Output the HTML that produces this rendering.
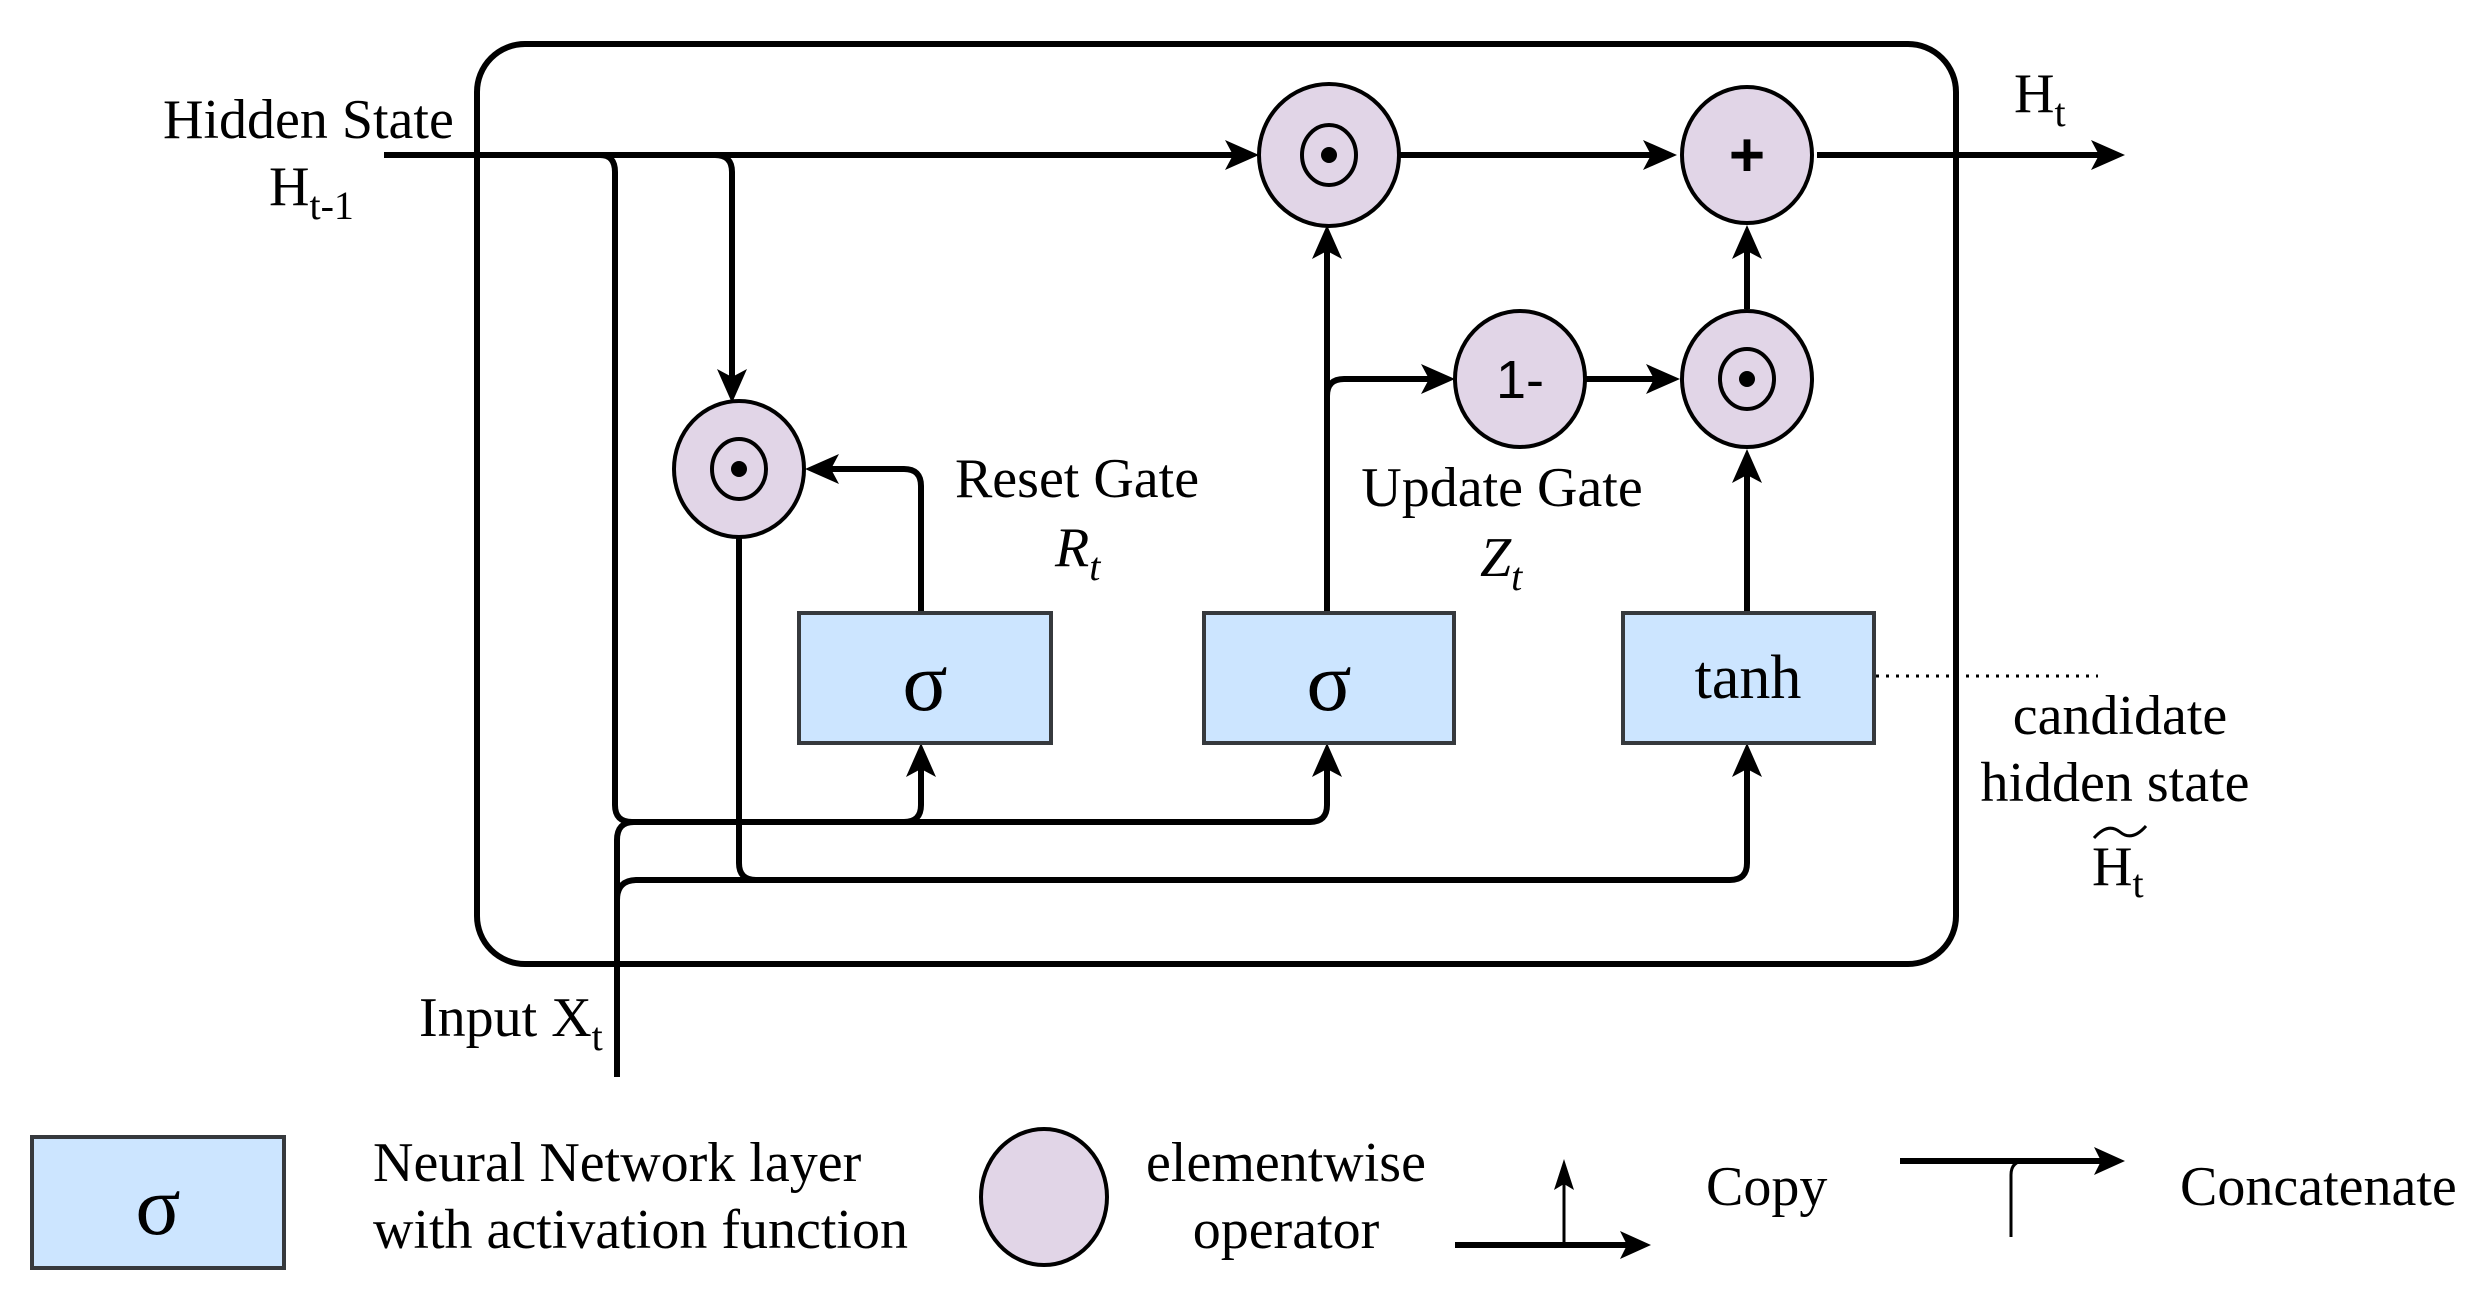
<!DOCTYPE html>
<html><head><meta charset="utf-8"><style>
html,body{margin:0;padding:0;background:#fff}
svg{display:block}
text{font-family:"Liberation Serif",serif;fill:#000}
</style></head><body>
<svg width="2477" height="1306" viewBox="0 0 2477 1306" xmlns="http://www.w3.org/2000/svg">
<g fill="none" stroke="#000" stroke-width="6">
<rect x="477" y="44" width="1479" height="920" rx="48"/>
<path d="M384,155 H1240"/>
<path d="M600,155 H600 Q615,155 615,172 V805 Q615,822 632,822 H904 Q921,822 921,805 V760"/>
<path d="M904,822 H1310 Q1327,822 1327,805 V760"/>
<path d="M715,155 Q732,155 732,172 V385"/>
<path d="M617,1077 V840 Q617,822 634,822"/>
<path d="M617,900 Q617,880 637,880 H1730 Q1747,880 1747,863 V760"/>
<path d="M739,535 V863 Q739,880 756,880"/>
<path d="M921,613 V486 Q921,469 904,469 H823"/>
<path d="M1327,613 V243"/>
<path d="M1327,396 Q1327,379 1344,379 H1437"/>
<path d="M1586,379 H1662"/>
<path d="M1747,309 V243"/>
<path d="M1747,613 V467"/>
<path d="M1399,155 H1659"/>
<path d="M1817,155 H2105"/>
<path d="M1455,1245 H1630"/>
<path d="M1564,1245 Q1564,1225 1564,1180" stroke-width="3"/>
<path d="M1900,1161 H2105"/>
<path d="M2011,1237 V1175 Q2011,1161 2025,1161" stroke-width="3"/>
</g>
<g fill="#000">
<polygon points="1259,155 1225,140 1233,155 1225,170"/>
<polygon points="1677,155 1643,140 1651,155 1643,170"/>
<polygon points="2125,155 2091,140 2099,155 2091,170"/>
<polygon points="1455,379 1421,364 1429,379 1421,394"/>
<polygon points="1680,379 1646,364 1654,379 1646,394"/>
<polygon points="805,469 839,454 831,469 839,484"/>
<polygon points="732,403 717,369 732,377 747,369"/>
<polygon points="1327,225 1312,259 1327,251 1342,259"/>
<polygon points="1747,225 1732,259 1747,251 1762,259"/>
<polygon points="1747,449 1732,483 1747,475 1762,483"/>
<polygon points="921,743 906,777 921,769 936,777"/>
<polygon points="1327,743 1312,777 1327,769 1342,777"/>
<polygon points="1747,743 1732,777 1747,769 1762,777"/>
<polygon points="1651,1245 1620,1231 1627,1245 1620,1259"/>
<polygon points="2125,1161 2094,1147 2101,1161 2094,1175"/>
<polygon points="1564,1159 1554,1190 1564,1184 1574,1190"/>
</g>
<g fill="#e1d5e7" stroke="#000" stroke-width="4">
<ellipse cx="1329" cy="155" rx="70" ry="71"/>
<ellipse cx="1747" cy="155" rx="65" ry="68"/>
<ellipse cx="1520" cy="379" rx="65" ry="68"/>
<ellipse cx="1747" cy="379" rx="65" ry="68"/>
<ellipse cx="739" cy="469" rx="65" ry="68"/>
<ellipse cx="1044" cy="1197" rx="63" ry="68"/>
</g>
<g fill="none" stroke="#000" stroke-width="4">
<ellipse cx="1329" cy="155" rx="27" ry="30"/>
<ellipse cx="1747" cy="379" rx="27" ry="30"/>
<ellipse cx="739" cy="469" rx="27" ry="30"/>
</g>
<g fill="#000">
<circle cx="1329" cy="155" r="8"/>
<circle cx="1747" cy="379" r="8"/>
<circle cx="739" cy="469" r="8"/>
</g>
<text x="1747" y="176" font-size="62" font-weight="bold" text-anchor="middle" style="font-family:'Liberation Sans',sans-serif">+</text>
<text x="1520" y="398" font-size="54" text-anchor="middle" style="font-family:'Liberation Sans',sans-serif">1-</text>
<g fill="#cce5ff" stroke="#36393d" stroke-width="4">
<rect x="799" y="613" width="252" height="130"/>
<rect x="1204" y="613" width="250" height="130"/>
<rect x="1623" y="613" width="251" height="130"/>
<rect x="32" y="1137" width="252" height="131"/>
</g>
<g font-size="84" text-anchor="middle">
<text x="925" y="710">σ</text>
<text x="1329" y="710">σ</text>
<text x="158" y="1234">σ</text>
</g>
<text x="1748" y="698" font-size="62" text-anchor="middle">tanh</text>
<path d="M1876,676 H2098" stroke="#000" stroke-width="3" stroke-dasharray="3,7"/>
<g font-size="56">
<text x="163" y="138">Hidden State</text>
<text x="269" y="205">H<tspan font-size="40" dy="14">t-1</tspan></text>
<text x="2014" y="112">H<tspan font-size="40" dy="14">t</tspan></text>
<text x="1077" y="497" text-anchor="middle">Reset Gate</text>
<text x="1055" y="566" font-style="italic">R<tspan font-size="40" dy="14">t</tspan></text>
<text x="1502" y="506" text-anchor="middle">Update Gate</text>
<text x="1480" y="576" font-style="italic">Z<tspan font-size="40" dy="14">t</tspan></text>
<text x="2120" y="734" text-anchor="middle">candidate</text>
<text x="2115" y="801" text-anchor="middle">hidden state</text>
<text x="2092" y="885">H<tspan font-size="40" dy="12">t</tspan></text>
<text x="419" y="1036">Input X<tspan font-size="40" dy="14">t</tspan></text>
<text x="373" y="1181">Neural Network layer</text>
<text x="373" y="1248">with activation function</text>
<text x="1286" y="1181" text-anchor="middle">elementwise</text>
<text x="1286" y="1248" text-anchor="middle">operator</text>
<text x="1706" y="1205">Copy</text>
<text x="2180" y="1205">Concatenate</text>
</g>
<path d="M2094,838 Q2108,822 2120,832 Q2132,842 2146,826" fill="none" stroke="#000" stroke-width="3"/>
</svg>
</body></html>
